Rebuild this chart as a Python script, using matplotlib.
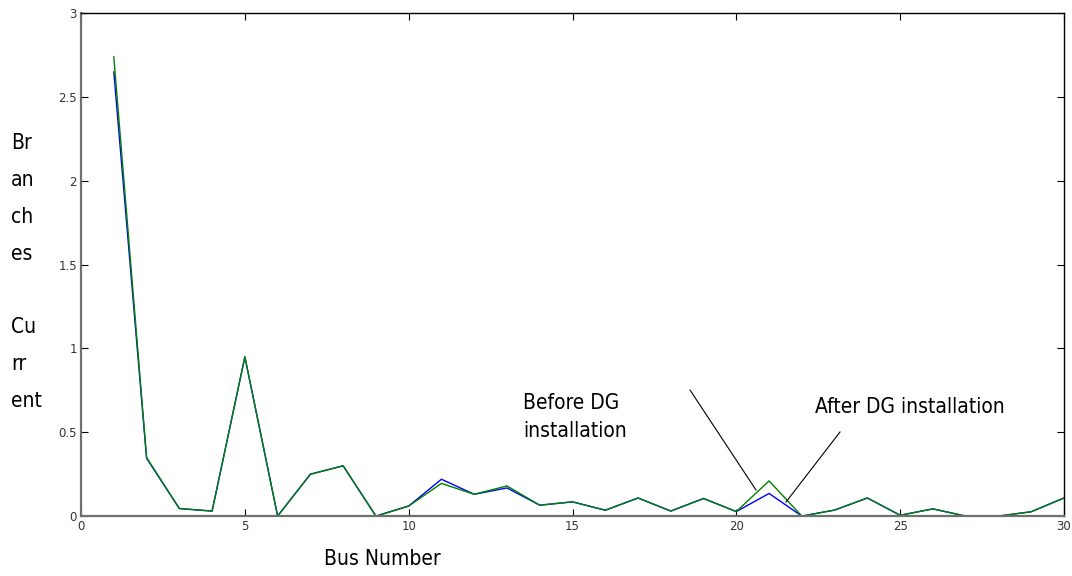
import matplotlib
matplotlib.use("Agg")
import matplotlib.pyplot as plt

# ------------------------------------------------
# Data
# ------------------------------------------------
bus = list(range(1, 31))
before_dg = [2.74, 0.35, 0.045, 0.03, 0.95, 0.0, 0.25, 0.30, 0.0, 0.06,
             0.195, 0.13, 0.18, 0.065, 0.085, 0.035, 0.108, 0.03, 0.105, 0.027,
             0.21, 0.0, 0.036, 0.108, 0.005, 0.043, 0.0, 0.0, 0.026, 0.108]
after_dg = [2.65, 0.345, 0.045, 0.03, 0.95, 0.0, 0.25, 0.30, 0.0, 0.06,
            0.22, 0.13, 0.168, 0.065, 0.085, 0.035, 0.108, 0.03, 0.105, 0.027,
            0.135, 0.0, 0.036, 0.108, 0.005, 0.043, 0.0, 0.0, 0.026, 0.108]
x_ticks = [0, 5, 10, 15, 20, 25, 30]
y_ticks = [0, 0.5, 1, 1.5, 2, 2.5, 3]
y_tick_labels = ["0", "0.5", "1", "1.5", "2", "2.5", "3"]

# narrow look for the hand-placed labels
label_kw = dict(family="DejaVu Sans", fontstretch="condensed", fontsize=15)

fig = plt.figure(figsize=(10.72, 5.76), dpi=100)
ax = fig.add_axes([0.0756, 0.104, 0.9169, 0.873])

ax.plot(bus, after_dg, color="#0000ff", linewidth=1.0)
ax.plot(bus, before_dg, color="#008000", linewidth=1.0)

ax.set_xlim(0, 30)
ax.set_ylim(0, 3)
ax.set_xticks(x_ticks)
ax.set_yticks(y_ticks)
ax.set_yticklabels(y_tick_labels)
ax.tick_params(direction="in", length=5, top=True, right=True,
               labelsize=8.5, labelcolor="#333333", pad=3, width=0.8)

# left and bottom spines are grey and heavier, top/right thin black
for side in ("left", "bottom"):
    ax.spines[side].set_color("#707070")
    ax.spines[side].set_linewidth(1.6)
for side in ("top", "right"):
    ax.spines[side].set_color("black")
    ax.spines[side].set_linewidth(1.0)

# labels placed in figure pixels like the original
fig.text(11 / 1072, 1 - 272 / 576, "Br\nan\nch\nes\n\nCu\nrr\nent",
         ha="left", va="center", linespacing=2.05, **label_kw)
fig.text(382 / 1072, 1 - 559 / 576, "Bus Number",
         ha="center", va="center", **label_kw)
fig.text(523 / 1072, 1 - 417 / 576, "Before DG\ninstallation",
         ha="left", va="center", linespacing=1.5, **label_kw)
fig.text(815 / 1072, 1 - 407 / 576, "After DG installation",
         ha="left", va="center", **label_kw)

# pointer lines (no heads)
fig.add_artist(plt.Line2D([690 / 1072, 756 / 1072],
                          [1 - 390 / 576, 1 - 490 / 576],
                          color="black", linewidth=0.8))
fig.add_artist(plt.Line2D([840 / 1072, 786 / 1072],
                          [1 - 432 / 576, 1 - 502 / 576],
                          color="black", linewidth=0.8))

fig.savefig("out.png", dpi=100)
